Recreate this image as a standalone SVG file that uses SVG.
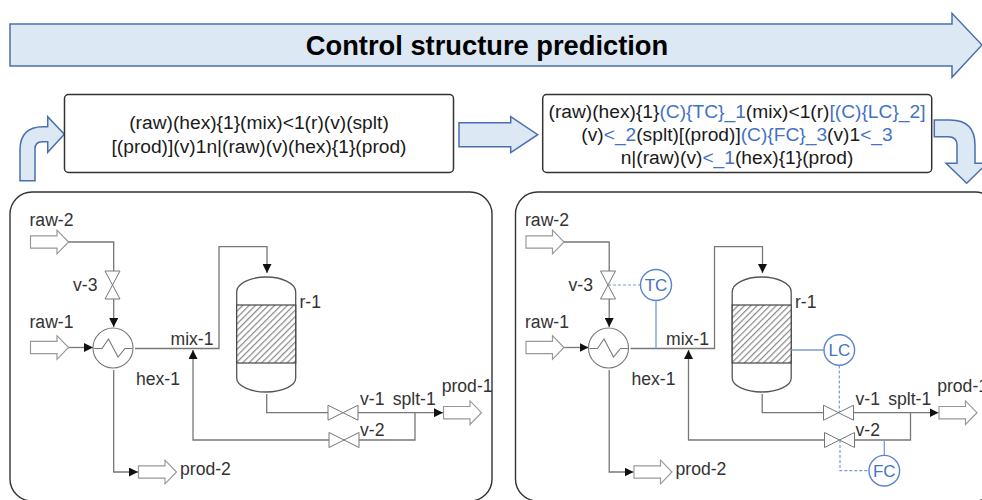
<svg xmlns="http://www.w3.org/2000/svg" width="982" height="500" viewBox="0 0 982 500">
<style>
text{font-family:"Liberation Sans",Arial,sans-serif;fill:#333}
.lbl{font-size:17.6px}
.seq{font-size:19.2px;text-anchor:middle;fill:#1a1a1a}
.seq tspan.b{fill:#4472c4}
.title{font-size:27.3px;font-weight:bold;text-anchor:middle;fill:#000}
.big{fill:#dde8f5;stroke:#4a6fae;stroke-width:1.5}
.box{fill:#fff;stroke:#333;stroke-width:1.5}
.panel{fill:#fff;stroke:#333;stroke-width:1.4}
.pipe{fill:none;stroke:#777;stroke-width:1.3}
.zig{fill:none;stroke:#777;stroke-width:1.1}
.shape{fill:#fff;stroke:#999;stroke-width:1.2}
.valve{fill:#fff;stroke:#777;stroke-width:1}
.vessel{fill:#fff;stroke:#555;stroke-width:1.3}
.ctrl{fill:#fff;stroke:#5b84cf;stroke-width:1.4}
.ctxt{font-size:17px;text-anchor:middle;fill:#4472c4}
.sig{fill:none;stroke:#7a9bd6;stroke-width:1.3}
.dash{fill:none;stroke:#7a9bd6;stroke-width:1.2;stroke-dasharray:3 2}
</style>
<defs>
<marker id="ah" markerUnits="userSpaceOnUse" markerWidth="10" markerHeight="9" refX="9" refY="4.5" orient="auto"><path d="M0 0L9 4.5L0 9Z" fill="#111"/></marker>
<pattern id="hatch" patternUnits="userSpaceOnUse" width="4.5" height="4.5" patternTransform="rotate(-45)"><rect width="4.5" height="4.5" fill="#fff"/><rect width="4.5" height="1.2" fill="#888"/></pattern>
<path id="flow" d="M0 -6.2H26.5V-11.8L38 0L26.5 11.8V6.2H0Z"/>
<path id="vh" d="M-15 -7.5L15 7.5V-7.5L-15 7.5Z"/>
<path id="vv" d="M-7.5 -14L7.500 -14L-7.500 14L7.500 14Z"/>
</defs>

<g id="banner">
<path class="big" d="M10 24H952V13.300L982 45L952 77.300V66H10Z"/>
<text class="title" x="487" y="55">Control structure prediction</text>
</g>
<g id="arrow-in"><path class="big" d="M20 180.700V150Q20 126.700 43 126.700H47.700V116.700L64.300 134.300L47.700 152.300V141.700H42Q35 141.700 35 149V180.700Z"/></g>
<g id="seq-1">
<rect class="box" x="64.500" y="94.500" width="389" height="78" rx="4"/>
<text class="seq" x="259" y="129">(raw)(hex){1}(mix)&lt;1(r)(v)(splt)</text>
<text class="seq" x="259" y="152.500">[(prod)](v)1n|(raw)(v)(hex){1}(prod)</text>
</g>
<g id="arrow-mid"><path class="big" d="M459 122.700H510.700V116.700L537.700 134.700L510.700 152.700V146.700H459Z"/></g>
<g id="seq-2">
<rect class="box" x="542.700" y="94.500" width="389" height="78" rx="4"/>
<text class="seq" x="737" y="118">(raw)(hex){1}<tspan class="b">(C){TC}_1</tspan>(mix)&lt;1(r)<tspan class="b">[(C){LC}_2]</tspan></text>
<text class="seq" x="737" y="141">(v)<tspan class="b">&lt;_2</tspan>(splt)[(prod)]<tspan class="b">(C){FC}_3</tspan>(v)1<tspan class="b">&lt;_3</tspan></text>
<text class="seq" x="737" y="164">n|(raw)(v)<tspan class="b">&lt;_1</tspan>(hex){1}(prod)</text>
</g>
<g id="arrow-out"><path class="big" d="M934.300 120H950Q975 120 975 145V163.300H987L966.700 183.300L946 163.300H957V145Q957 136.700 948 136.700H934.300Z"/></g>

<g id="panel-1">
<rect class="panel" x="10" y="192" width="482" height="309" rx="22"/>
<g id="p1-connectors">
<path class="pipe" d="M68 242H113.700V271"/>
<path class="pipe" d="M113.700 299V327" marker-end="url(#ah)"/>
<path class="pipe" d="M68 347.500H93" marker-end="url(#ah)"/>
<path class="pipe" d="M135 348.500H219V246.700H267V273" marker-end="url(#ah)"/>
<path class="pipe" d="M266.700 394V412.700H328"/>
<path class="pipe" d="M358 412.700H443" marker-end="url(#ah)"/>
<path class="pipe" d="M415 412.700V440H359"/>
<path class="pipe" d="M329 440H193V350" marker-end="url(#ah)"/>
<path class="pipe" d="M113.700 370V472H138" marker-end="url(#ah)"/>
</g>
<g id="p1-raw-2"><use href="#flow" x="30.500" y="242" class="shape"/><text class="lbl" x="29.500" y="226">raw-2</text></g>
<g id="p1-raw-1"><use href="#flow" x="30.500" y="347.500" class="shape"/><text class="lbl" x="29.500" y="327.500">raw-1</text></g>
<g id="p1-v-3"><use href="#vv" x="112.500" y="285" class="valve"/><text class="lbl" x="73" y="291">v-3</text></g>
<g id="p1-hex-1"><circle cx="113" cy="348" r="20" fill="#fff" stroke="#777" stroke-width="1.100"/><path class="zig" d="M94 348.500H102L108.500 339L118 357L125 348.500H132.500"/><text class="lbl" x="136" y="385">hex-1</text></g>
<g id="p1-mix-1"><text class="lbl" x="170.500" y="345">mix-1</text></g>
<g id="p1-r-1">
<path class="vessel" d="M236.700 292A29.500 15 0 0 1 295.700 292V378A29.500 14 0 0 1 236.700 378Z"/>
<rect x="236.700" y="305" width="59" height="58" fill="url(#hatch)" stroke="#444" stroke-width="1.200"/>
<text class="lbl" x="299.500" y="308">r-1</text></g>
<g id="p1-v-1"><use href="#vh" x="343" y="412.700" class="valve"/><text class="lbl" x="360" y="405">v-1</text></g>
<g id="p1-v-2"><use href="#vh" x="344" y="440" class="valve"/><text class="lbl" x="360" y="436">v-2</text></g>
<g id="p1-splt-1"><text class="lbl" x="392.700" y="405">splt-1</text></g>
<g id="p1-prod-1"><use href="#flow" x="443.500" y="412.700" class="shape"/><text class="lbl" x="441.700" y="391.700">prod-1</text></g>
<g id="p1-prod-2"><use href="#flow" x="138.500" y="472" class="shape"/><text class="lbl" x="180" y="475">prod-2</text></g>
</g>

<g id="panel-2">
<g transform="translate(495.500 0)">
<rect class="panel" x="20" y="192" width="482" height="309" rx="22"/>
<g id="p2-connectors">
<path class="pipe" d="M68 242H113.700V271"/>
<path class="pipe" d="M113.700 299V327" marker-end="url(#ah)"/>
<path class="pipe" d="M68 347.500H93" marker-end="url(#ah)"/>
<path class="pipe" d="M135 348.500H219V246.700H267V273" marker-end="url(#ah)"/>
<path class="pipe" d="M266.700 394V412.700H328"/>
<path class="pipe" d="M358 412.700H443" marker-end="url(#ah)"/>
<path class="pipe" d="M415 412.700V440H359"/>
<path class="pipe" d="M329 440H193V350" marker-end="url(#ah)"/>
<path class="pipe" d="M113.700 370V472H138" marker-end="url(#ah)"/>
</g>
<g id="p2-raw-2"><use href="#flow" x="30.500" y="242" class="shape"/><text class="lbl" x="29.500" y="226">raw-2</text></g>
<g id="p2-raw-1"><use href="#flow" x="30.500" y="347.500" class="shape"/><text class="lbl" x="29.500" y="327.500">raw-1</text></g>
<g id="p2-v-3"><use href="#vv" x="112.500" y="285" class="valve"/><text class="lbl" x="73" y="291">v-3</text></g>
<g id="p2-hex-1"><circle cx="113" cy="348" r="20" fill="#fff" stroke="#777" stroke-width="1.100"/><path class="zig" d="M94 348.500H102L108.500 339L118 357L125 348.500H132.500"/><text class="lbl" x="136" y="385">hex-1</text></g>
<g id="p2-mix-1"><text class="lbl" x="170.500" y="345">mix-1</text></g>
<g id="p2-r-1">
<path class="vessel" d="M236.700 292A29.500 15 0 0 1 295.700 292V378A29.500 14 0 0 1 236.700 378Z"/>
<rect x="236.700" y="305" width="59" height="58" fill="url(#hatch)" stroke="#444" stroke-width="1.200"/>
<text class="lbl" x="299.500" y="308">r-1</text></g>
<g id="p2-v-1"><use href="#vh" x="343" y="412.700" class="valve"/><text class="lbl" x="360" y="405">v-1</text></g>
<g id="p2-v-2"><use href="#vh" x="344" y="440" class="valve"/><text class="lbl" x="360" y="436">v-2</text></g>
<g id="p2-splt-1"><text class="lbl" x="392.700" y="405">splt-1</text></g>
<g id="p2-prod-1"><use href="#flow" x="443.500" y="412.700" class="shape"/><text class="lbl" x="441.700" y="391.700">prod-1</text></g>
<g id="p2-prod-2"><use href="#flow" x="138.500" y="472" class="shape"/><text class="lbl" x="180" y="475">prod-2</text></g>
</g>
<g id="control-connectors">
<path class="dash" d="M608 285H640.500"/>
<path class="sig" d="M656 300.500V348.500"/>
<path class="sig" d="M791.200 350H824"/>
<path class="dash" d="M839.300 365.500V413"/>
<path class="sig" d="M884.300 440V455.500"/>
<path class="dash" d="M840 440V470.700H869"/>
</g>
<g id="TC"><circle class="ctrl" cx="656" cy="285" r="15.500"/><text class="ctxt" x="656" y="291">TC</text></g>
<g id="LC"><circle class="ctrl" cx="839.300" cy="350" r="15.300"/><text class="ctxt" x="839.300" y="356">LC</text></g>
<g id="FC"><circle class="ctrl" cx="884.300" cy="470.700" r="15.300"/><text class="ctxt" x="884.300" y="476.700">FC</text></g>
</g>
</svg>
